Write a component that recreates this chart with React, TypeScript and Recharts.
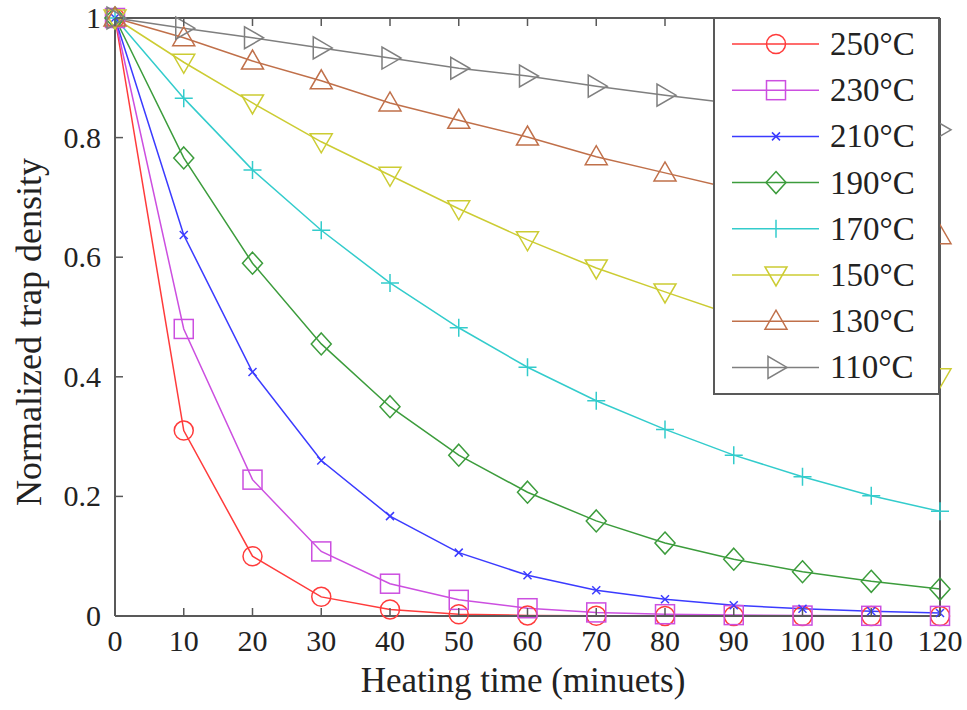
import { LineChart, Line, XAxis, YAxis, Legend } from 'recharts'

const minutes = [0, 10, 20, 30, 40, 50, 60, 70, 80, 90, 100, 110, 120]
const xTicks = [0, 10, 20, 30, 40, 50, 60, 70, 80, 90, 100, 110, 120]
const yTicks = [0, 0.2, 0.4, 0.6, 0.8, 1]

const t250 = [1, 0.31, 0.1, 0.032, 0.011, 0.003, 0.001, 0.0005, 0.0002, 0.0001, 0, 0, 0]
const t230 = [1, 0.48, 0.228, 0.108, 0.054, 0.027, 0.013, 0.006, 0.003, 0.0015, 0.0007, 0.0003, 0.0002]
const t210 = [1, 0.637, 0.408, 0.26, 0.167, 0.106, 0.068, 0.043, 0.028, 0.018, 0.012, 0.008, 0.005]
const t190 = [1, 0.766, 0.59, 0.455, 0.35, 0.269, 0.207, 0.159, 0.122, 0.095, 0.074, 0.058, 0.045]
const t170 = [1, 0.866, 0.746, 0.645, 0.557, 0.482, 0.416, 0.36, 0.312, 0.269, 0.233, 0.201, 0.175]
const t150 = [1, 0.926, 0.858, 0.793, 0.737, 0.681, 0.629, 0.582, 0.542, 0.503, 0.467, 0.433, 0.4]
const t130 = [1, 0.967, 0.928, 0.895, 0.858, 0.829, 0.801, 0.768, 0.741, 0.714, 0.688, 0.661, 0.636]
const t110 = [1, 0.983, 0.967, 0.95, 0.933, 0.916, 0.903, 0.886, 0.871, 0.857, 0.842, 0.828, 0.813]

const FONT = '"Liberation Serif", "DejaVu Serif", serif'
const AXIS = '#595959'

const PLOT = { left: 115, right: 940, top: 18, bottom: 616 }

const series = [
    { key: 't250', name: '250°C', color: '#ff3b3b', shape: 'circle', values: t250 },
    { key: 't230', name: '230°C', color: '#cc4fe0', shape: 'square', values: t230 },
    { key: 't210', name: '210°C', color: '#3b3bff', shape: 'x', values: t210 },
    { key: 't190', name: '190°C', color: '#3c9c3c', shape: 'diamond', values: t190 },
    { key: 't170', name: '170°C', color: '#33cccc', shape: 'plus', values: t170 },
    { key: 't150', name: '150°C', color: '#cccc33', shape: 'down', values: t150 },
    { key: 't130', name: '130°C', color: '#c0704a', shape: 'up', values: t130 },
    { key: 't110', name: '110°C', color: '#7f7f7f', shape: 'right', values: t110 },
]

const chartData = minutes.map((m, i) => {
    const row: any = { minutes: m }
    series.forEach(s => { row[s.key] = s.values[i] })
    return row
})

function Marker({ shape, cx, cy, color }: { shape: string, cx: number, cy: number, color: string }) {
    const p = { fill: 'none', stroke: color, strokeWidth: 1.5 }
    switch (shape) {
        case 'circle':
            return <circle cx={cx} cy={cy} r={9.5} {...p} />
        case 'square':
            return <rect x={cx - 9.5} y={cy - 9.5} width={19} height={19} {...p} />
        case 'x':
            return <path d={`M${cx - 4},${cy - 4}L${cx + 4},${cy + 4}M${cx - 4},${cy + 4}L${cx + 4},${cy - 4}`} {...p} />
        case 'diamond':
            return <path d={`M${cx},${cy - 11}L${cx + 10},${cy}L${cx},${cy + 11}L${cx - 10},${cy}Z`} {...p} />
        case 'plus':
            return <path d={`M${cx - 9},${cy}L${cx + 9},${cy}M${cx},${cy - 9}L${cx},${cy + 9}`} {...p} />
        case 'down':
            return <path d={`M${cx - 11},${cy - 8}L${cx + 11},${cy - 8}L${cx},${cy + 11}Z`} {...p} />
        case 'up':
            return <path d={`M${cx - 11},${cy + 8}L${cx + 11},${cy + 8}L${cx},${cy - 11}Z`} {...p} />
        case 'right':
            return <path d={`M${cx - 8},${cy - 11}L${cx - 8},${cy + 11}L${cx + 11},${cy}Z`} {...p} />
    }
    return null
}

const BottomTick = ({ x, y, payload }: any) => (
    <g>
        <line x1={x} y1={y} x2={x} y2={y - 8} stroke={AXIS} strokeWidth={1.5} />
        <text x={x} y={y + 35} textAnchor="middle" fontFamily={FONT} fontSize={30} fill="#222">
            {payload.value}
        </text>
    </g>
)

const LeftTick = ({ x, y, payload }: any) => (
    <g>
        <line x1={x} y1={y} x2={x + 8} y2={y} stroke={AXIS} strokeWidth={1.5} />
        <text x={x - 14} y={y + 10} textAnchor="end" fontFamily={FONT} fontSize={30} fill="#222">
            {payload.value}
        </text>
    </g>
)

const TopTick = ({ x, y }: any) => (
    <line x1={x} y1={y} x2={x} y2={y + 8} stroke={AXIS} strokeWidth={1.5} />
)

const RightTick = ({ x, y }: any) => (
    <line x1={x} y1={y} x2={x - 8} y2={y} stroke={AXIS} strokeWidth={1.5} />
)

const LegendBox = () => (
    <div style={{
        width: 227,
        height: 378,
        boxSizing: 'border-box',
        border: `2px solid ${AXIS}`,
        background: '#fff',
    }}>
        <svg width={223} height={374}>
            {series.map((s, i) => {
                const cy = 25 + i * 46.2
                return (
                    <g key={s.key}>
                        <line x1={17} y1={cy} x2={104} y2={cy} stroke={s.color} strokeWidth={1.5} />
                        <Marker shape={s.shape === 'plus' ? 'vbar' : s.shape} cx={61} cy={cy} color={s.color} />
                        {s.shape === 'plus' && <line x1={61} y1={cy - 9} x2={61} y2={cy + 9} stroke={s.color} strokeWidth={1.5} />}
                        <text x={115} y={cy + 11} fontFamily={FONT} fontSize={33} fill="#222">{s.name}</text>
                    </g>
                )
            })}
        </svg>
    </div>
)

export default function App() {
    return (
        <div style={{ position: 'absolute', left: 0, top: 0, width: 967, height: 710, background: '#fff' }}>
            <LineChart
                width={967}
                height={710}
                data={chartData}
                margin={{ top: PLOT.top - 1, right: 967 - PLOT.right - 1, left: PLOT.left - 60, bottom: 710 - PLOT.bottom - 60 }}
            >
                <XAxis
                    xAxisId="bottom"
                    dataKey="minutes"
                    type="number"
                    domain={[0, 120]}
                    ticks={xTicks}
                    height={60}
                    tickLine={false}
                    tickSize={0}
                    tickMargin={0}
                    tick={<BottomTick />}
                    axisLine={{ stroke: AXIS, strokeWidth: 2 }}
                    interval={0}
                />
                <XAxis
                    xAxisId="top"
                    orientation="top"
                    dataKey="minutes"
                    type="number"
                    domain={[0, 120]}
                    ticks={xTicks}
                    height={1}
                    tickLine={false}
                    tickSize={0}
                    tickMargin={0}
                    tick={<TopTick />}
                    axisLine={{ stroke: AXIS, strokeWidth: 2 }}
                    interval={0}
                />
                <YAxis
                    yAxisId="left"
                    type="number"
                    domain={[0, 1]}
                    ticks={yTicks}
                    width={60}
                    tickLine={false}
                    tickSize={0}
                    tickMargin={0}
                    tick={<LeftTick />}
                    axisLine={{ stroke: AXIS, strokeWidth: 2 }}
                    interval={0}
                />
                <YAxis
                    yAxisId="right"
                    orientation="right"
                    type="number"
                    domain={[0, 1]}
                    ticks={yTicks}
                    width={1}
                    tickLine={false}
                    tickSize={0}
                    tickMargin={0}
                    tick={<RightTick />}
                    axisLine={{ stroke: AXIS, strokeWidth: 2 }}
                    interval={0}
                />
                {series.map(s => (
                    <Line
                        key={s.key}
                        xAxisId="bottom"
                        yAxisId="left"
                        dataKey={s.key}
                        name={s.name}
                        type="linear"
                        stroke={s.color}
                        strokeWidth={1.5}
                        isAnimationActive={false}
                        dot={(props: any) => (
                            <Marker key={`${s.key}-${props.index}`} shape={s.shape} cx={props.cx} cy={props.cy} color={s.color} />
                        )}
                        activeDot={false}
                    />
                ))}
                <Legend
                    layout="vertical"
                    align="center"
                    verticalAlign="middle"
                    content={<LegendBox />}
                    wrapperStyle={{ position: 'absolute', left: 713, top: PLOT.top - 1, width: 227, height: 378 }}
                />
            </LineChart>
            <div style={{
                position: 'absolute', left: 523, top: 681, transform: 'translate(-50%, -50%)',
                fontFamily: FONT, fontSize: 35, color: '#222', whiteSpace: 'nowrap',
            }}>
                Heating time (minuets)
            </div>
            <div style={{
                position: 'absolute', left: 29, top: 332, transform: 'translate(-50%, -50%) rotate(-90deg)',
                fontFamily: FONT, fontSize: 36, color: '#222', whiteSpace: 'nowrap',
            }}>
                Normalized trap density
            </div>
        </div>
    )
}
